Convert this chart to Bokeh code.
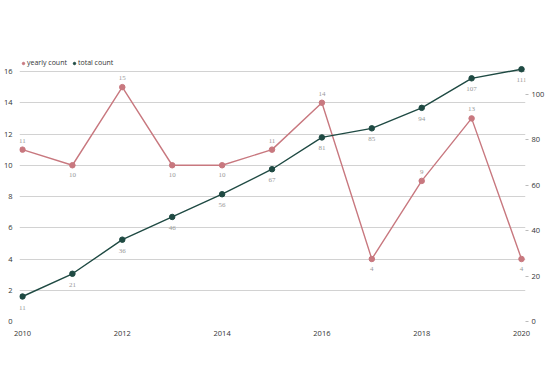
from bokeh.plotting import figure
from bokeh.models import (ColumnDataSource, LinearAxis, Range1d, Legend, LegendItem,
                          FixedTicker, LabelSet)
from bokeh.embed import file_html
from bokeh.resources import INLINE

years = [2010, 2011, 2012, 2013, 2014, 2015, 2016, 2017, 2018, 2019, 2020]
yearly_count = [11, 10, 15, 10, 10, 11, 14, 4, 9, 13, 4]
total_count = [11, 21, 36, 46, 56, 67, 81, 85, 94, 107, 111]
x_ticks = [2010, 2012, 2014, 2016, 2018, 2020]
left_ticks = [0, 2, 4, 6, 8, 10, 12, 14, 16]
right_ticks = [0, 20, 40, 60, 80, 100]

YEARLY_COLOR = "#c8787f"
TOTAL_COLOR = "#1f4a43"
FONT = "Open Sans"
TICK_FS = "7.5px"

# yearly labels: below the point at local minima, above otherwise
yoff = []
for i, v in enumerate(yearly_count):
    nb = [yearly_count[j] for j in (i - 1, i + 1) if 0 <= j < len(yearly_count)]
    yoff.append(-10 if all(v <= n for n in nb) else 9)

src = ColumnDataSource(dict(
    x=years, yc=yearly_count, tc=total_count, yoff=yoff,
    yl=[str(v) for v in yearly_count], tl=[str(v) for v in total_count],
))

# frame extends a little above the top gridline to hold the legend
p = figure(frame_width=506, frame_height=264, output_backend="svg",
           toolbar_location=None,
           x_range=Range1d(2009.94, 2020.08), y_range=Range1d(0, 16.896),
           min_border_left=0, min_border_right=0, min_border_top=57,
           min_border_bottom=45)
p.extra_y_ranges = {"right": Range1d(0, 116.16)}
p.outline_line_color = None
p.background_fill_color = "white"

p.xaxis.ticker = FixedTicker(ticks=x_ticks)
p.xaxis.axis_line_color = None
p.xaxis.major_tick_line_color = None
p.xaxis.minor_tick_line_color = None
p.xaxis.major_label_text_font = FONT
p.xaxis.major_label_text_font_size = TICK_FS
p.xaxis.major_label_text_color = "#333333"
p.xaxis.major_label_standoff = 3

p.yaxis.ticker = FixedTicker(ticks=left_ticks)
p.yaxis.axis_line_color = None
p.yaxis.major_tick_line_color = None
p.yaxis.minor_tick_line_color = None
p.yaxis.major_label_text_font = FONT
p.yaxis.major_label_text_font_size = TICK_FS
p.yaxis.major_label_text_color = "#333333"
p.yaxis.major_label_standoff = 1

raxis = LinearAxis(y_range_name="right", ticker=FixedTicker(ticks=right_ticks))
raxis.axis_line_color = None
raxis.major_tick_line_color = "#bbbbbb"
raxis.major_tick_in = 0
raxis.major_tick_out = 3
raxis.minor_tick_line_color = None
raxis.major_label_text_font = FONT
raxis.major_label_text_font_size = TICK_FS
raxis.major_label_text_color = "#333333"
raxis.major_label_standoff = 3
p.add_layout(raxis, "right")

p.xgrid.grid_line_color = None
p.ygrid.grid_line_color = "#d2d2d2"
p.ygrid.grid_line_width = 1

l1 = p.line("x", "yc", source=src, line_color=YEARLY_COLOR, line_width=1.4)
s1 = p.scatter("x", "yc", source=src, size=5.5, fill_color=YEARLY_COLOR,
               line_color=YEARLY_COLOR)
l2 = p.line("x", "tc", source=src, line_color=TOTAL_COLOR, line_width=1.4,
            y_range_name="right")
s2 = p.scatter("x", "tc", source=src, size=5.5, fill_color=TOTAL_COLOR,
               line_color=TOTAL_COLOR, y_range_name="right")

lab1 = LabelSet(x="x", y="yc", text="yl", source=src, y_offset="yoff",
                text_align="center", text_baseline="middle",
                text_font="Liberation Serif", text_font_size="7px",
                text_color="#999999")
lab2 = LabelSet(x="x", y="tc", text="tl", source=src, y_offset=-11,
                y_range_name="right",
                text_align="center", text_baseline="middle",
                text_font="Liberation Serif", text_font_size="7px",
                text_color="#999999")
p.add_layout(lab1)
p.add_layout(lab2)

legend = Legend(items=[LegendItem(label="yearly count", renderers=[s1]),
                       LegendItem(label="total count", renderers=[s2])],
                orientation="horizontal", location="top_left")
legend.label_text_font = FONT
legend.label_text_font_size = "7px"
legend.label_text_color = "#333333"
legend.glyph_width = 6
legend.glyph_height = 6
legend.label_standoff = 1
legend.spacing = 4
legend.padding = 0
legend.margin = 1
legend.border_line_color = None
legend.background_fill_alpha = 0
legend.label_height = 8
p.add_layout(legend)

open("out.html", "w").write(file_html(p, INLINE))
